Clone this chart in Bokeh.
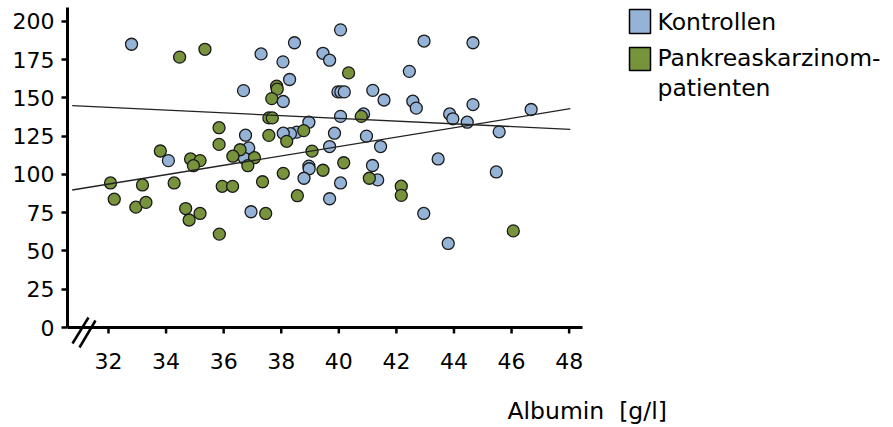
from bokeh.plotting import figure
from bokeh.models import Range1d, FixedTicker
from bokeh.core.properties import value
from bokeh.embed import file_html
from bokeh.resources import INLINE

# Albumin (g/l) vs. marker value, controls
ctrl_x = [32.80, 37.30, 38.06, 38.46, 38.29, 36.69, 38.07, 40.06, 39.45, 39.68,
          42.96, 44.66, 42.45, 39.97, 40.07, 40.19, 41.18, 41.57, 42.57, 42.69,
          44.66, 46.68, 40.06, 40.86, 43.85, 43.96, 44.46, 45.57, 38.96, 38.54,
          38.32, 38.07, 39.85, 40.96, 36.76, 36.87, 36.72, 39.68, 41.45, 34.08,
          43.45, 45.47, 41.17, 38.96, 38.97, 38.79, 40.06, 41.35, 39.68, 36.95,
          42.95, 43.80]
ctrl_y = [185.0, 178.7, 173.5, 186.0, 162.0, 154.7, 147.6, 194.4, 179.1, 174.6,
          187.1, 186.0, 167.3, 153.9, 153.9, 153.9, 154.9, 148.6, 147.8, 143.3,
          145.6, 142.4, 137.9, 139.5, 139.5, 136.3, 134.1, 127.8, 134.1, 127.6,
          126.6, 126.9, 126.9, 125.0, 125.6, 117.3, 110.5, 118.2, 118.2, 109.0,
          110.1, 101.6, 105.8, 105.4, 103.7, 97.5, 94.4, 96.4, 84.1, 75.6,
          74.5, 54.9]

# pancreatic carcinoma patients
pat_x = [34.47, 35.35, 37.84, 37.86, 37.67, 40.34, 35.84, 37.57, 37.69, 37.57,
         38.19, 40.78, 38.78, 35.84, 33.80, 34.85, 35.18, 34.95, 36.57, 36.32,
         37.07, 36.84, 39.07, 40.17, 38.07, 39.45, 41.06, 37.35, 32.07, 33.18,
         34.28, 35.95, 36.31, 38.56, 42.17, 42.17, 32.20, 32.95, 33.30, 34.68,
         34.80, 35.18, 37.46, 35.85, 46.06]
pat_y = [176.6, 181.7, 157.6, 155.7, 149.5, 166.3, 130.5, 136.9, 136.9, 125.5,
         121.6, 137.9, 128.6, 119.6, 115.3, 110.1, 109.0, 105.7, 116.1, 111.9,
         110.9, 105.7, 115.2, 107.6, 100.7, 102.7, 97.5, 95.2, 94.4, 93.1,
         94.4, 92.2, 92.2, 86.1, 92.3, 86.3, 83.8, 78.6, 81.7, 77.7,
         70.2, 74.5, 74.5, 61.0, 63.1]

# linear trend lines (end points)
trend_x = [30.74, 48.04]
ctrl_trend = [144.9, 129.4]
pat_trend = [89.8, 142.9]

x_ticks = [32, 34, 36, 38, 40, 42, 44, 46, 48]
x_tick_labels = ["32", "34", "36", "38", "40", "42", "44", "46", "48"]
y_ticks = [0, 25, 50, 75, 100, 125, 150, 175, 200]

series_names = ["Kontrollen", "Pankreaskarzinom-", "patienten"]
axis_title = "Albumin \u00a0[g/l]"

BLUE = "#95B3D7"
GREEN = "#77933C"
EDGE = "#1a1a1a"
FONT = "DejaVu Sans"

# canvas geometry (pixels)
W, H = 893, 427
FRAME_L, FRAME_T = 67, 7
AXIS_END = 582          # right end of the x axis line
ZERO_PX = 327           # canvas row of y = 0
PX_PER_X = 28.79
PX_PER_Y = 1.531
TEXT_RAISE = 8          # text glyphs sit this much below their anchor row


def px_x(px):
    return 32 + (px - 108) / PX_PER_X


def px_y(py):
    return (ZERO_PX - py) / PX_PER_Y


def text_y(baseline_px):
    return px_y(baseline_px - TEXT_RAISE)


X0, X1 = px_x(FRAME_L), px_x(W)
Y0, Y1 = px_y(H), px_y(FRAME_T)

p = figure(width=W, height=H, x_range=Range1d(X0, X1), y_range=Range1d(Y0, Y1),
           output_backend="svg", toolbar_location=None, title=None,
           x_axis_location=None,
           min_border_left=FRAME_L, min_border_right=0,
           min_border_top=FRAME_T, min_border_bottom=0)
p.outline_line_color = None
p.grid.visible = False
p.background_fill_color = "white"
p.border_fill_color = "white"

# y axis: real axis, drawn from 0 upwards
yax = p.yaxis[0]
yax.ticker = FixedTicker(ticks=y_ticks)
yax.bounds = (0, Y1)
yax.axis_line_width = 3
yax.axis_line_color = "black"
yax.major_tick_line_width = 2.5
yax.major_tick_line_color = "black"
yax.major_tick_out = 6
yax.major_tick_in = 0
yax.minor_tick_line_color = None
yax.major_label_standoff = 7
yax.major_label_text_font = FONT
yax.major_label_text_font_size = "22px"
yax.major_label_text_color = "black"

# x axis at y = 0: line, ticks, tick labels
p.segment(x0=[X0], y0=[0], x1=[px_x(AXIS_END)], y1=[0], line_color="black", line_width=3)
p.segment(x0=x_ticks, y0=[0] * len(x_ticks), x1=x_ticks, y1=[-6 / PX_PER_Y] * len(x_ticks),
          line_color="black", line_width=2.5)
p.text(x=x_ticks, y=[text_y(368)] * len(x_ticks), text=x_tick_labels,
       text_font=value(FONT), text_font_size=value("22px"), text_color="black",
       text_baseline="alphabetic", text_align="center")

# axis break marks
p.segment(x0=[px_x(72), px_x(79)], y0=[px_y(343), px_y(347)],
          x1=[px_x(88), px_x(95)], y1=[px_y(317), px_y(320)],
          line_color="black", line_width=2.5)

p.scatter(ctrl_x, ctrl_y, size=12, fill_color=BLUE, line_color=EDGE, line_width=1.3)
p.scatter(pat_x, pat_y, size=12, fill_color=GREEN, line_color=EDGE, line_width=1.3)

p.line(trend_x, ctrl_trend, line_color="#222222", line_width=1.3)
p.line(trend_x, pat_trend, line_color="#222222", line_width=1.3)

# legend swatches and labels
p.quad(left=[px_x(629)] * 2, right=[px_x(650)] * 2,
       top=[px_y(9), px_y(47)], bottom=[px_y(33), px_y(70)],
       fill_color=[BLUE, GREEN], line_color="black", line_width=1.5)
p.text(x=[px_x(657)] * 3, y=[text_y(29.5), text_y(65.5), text_y(95)], text=series_names,
       text_font=value(FONT), text_font_size=value("23.5px"), text_color="black",
       text_baseline="alphabetic", text_align="left")

# x axis title
p.text(x=[px_x(507)], y=[text_y(418)], text=[axis_title],
       text_font=value(FONT), text_font_size=value("23.5px"), text_color="black",
       text_baseline="alphabetic", text_align="left")

open("out.html", "w").write(file_html(p, INLINE))
